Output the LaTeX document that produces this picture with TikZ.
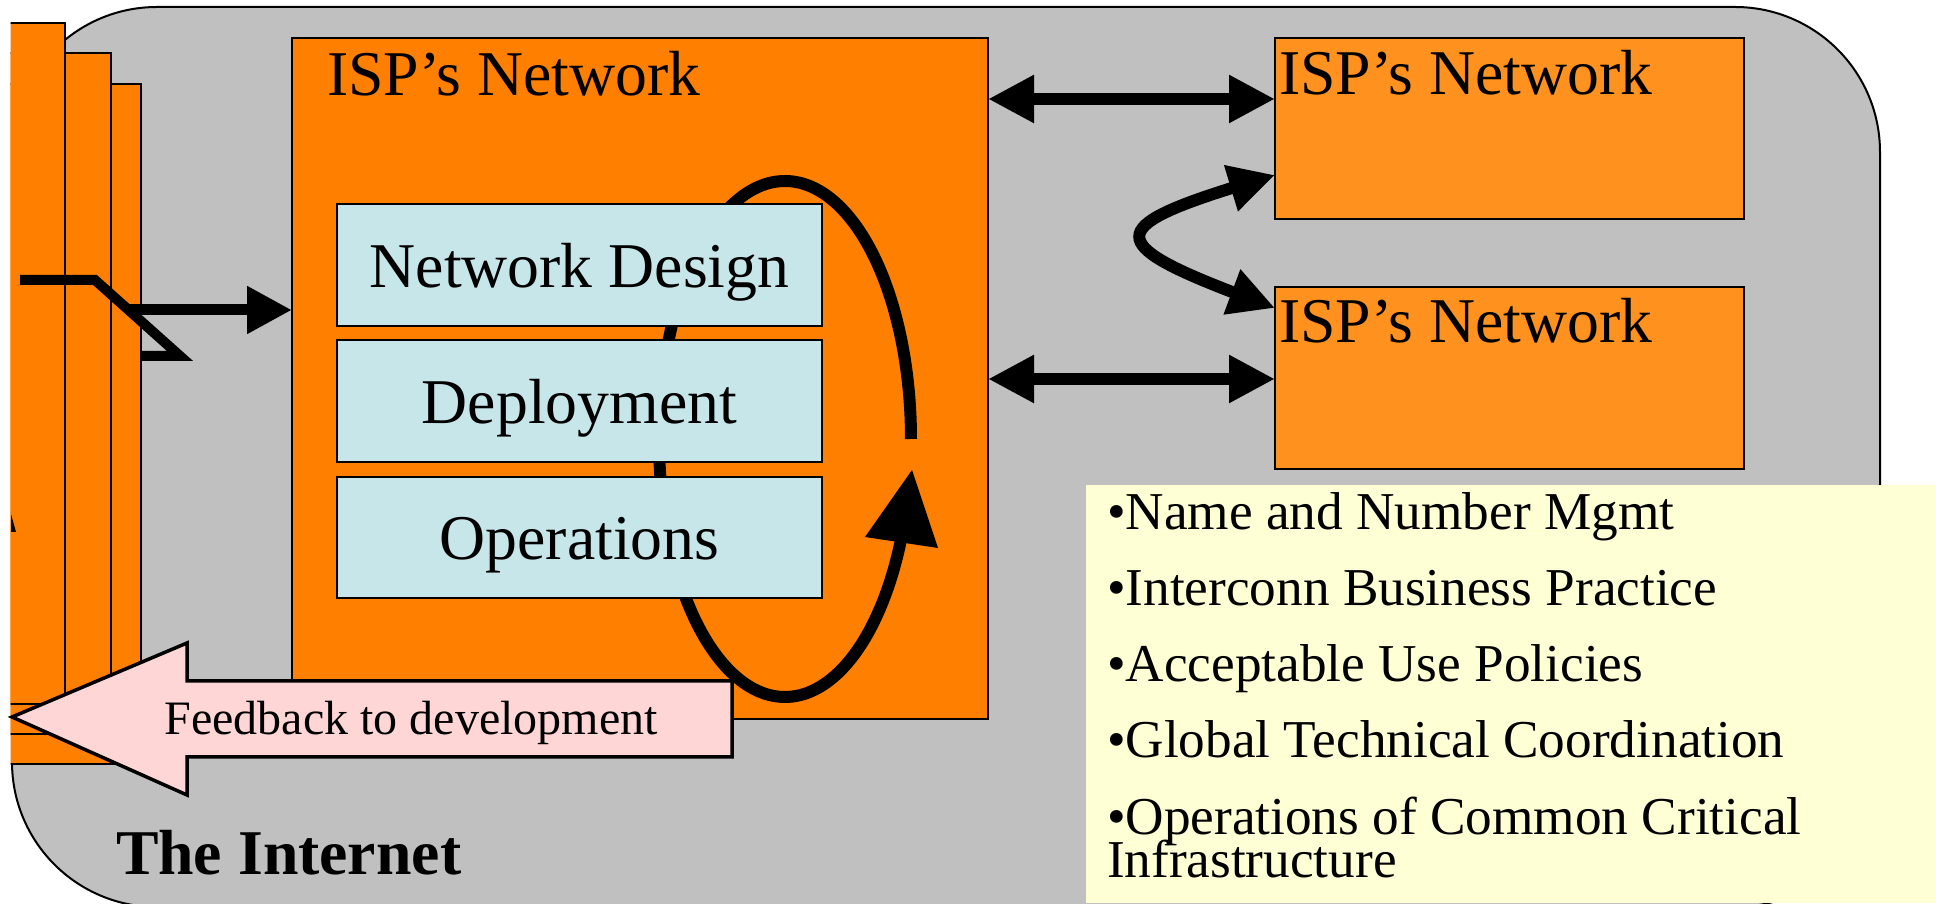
\documentclass[tikz,border=0pt]{standalone}
\usepackage{fontspec}
\setmainfont{Liberation Serif}
\usetikzlibrary{arrows.meta,bending,calc}
\definecolor{inetgray}{HTML}{C0C0C0}
\definecolor{ispmain}{HTML}{FF7F00}
\definecolor{ispother}{HTML}{FF911E}
\definecolor{stagecol}{HTML}{C6E6E9}
\definecolor{fbpink}{HTML}{FFD6D6}
\definecolor{notecol}{HTML}{FFFFD6}
\newcommand\fsBig{\fontsize{25.5pt}{30pt}\selectfont}
\newcommand\fsNote{\fontsize{21.3pt}{25pt}\selectfont}
\newcommand\fsFb{\fontsize{19.2pt}{23pt}\selectfont}
\tikzset{
  boxstyle/.style={draw=black, line width=0.8pt, inner sep=0pt, outer sep=0pt, anchor=north west},
  txt/.style={inner sep=0pt, outer sep=0pt, anchor=base west},
  arr/.style={line width=4.4pt, -{Triangle[length=18pt,width=18pt]}},
  dbl/.style={line width=4.8pt, {Triangle[length=18.4pt,width=18pt]}-{Triangle[length=18.4pt,width=18pt]}},
}
\begin{document}
\begin{tikzpicture}[x=0.4pt,y=-0.4pt]
\useasboundingbox (0,0) rectangle (1936,904);
% background "The Internet"
\begin{scope}
\clip (11,-20) rectangle (1960,930);
\draw[fill=inetgray, line width=0.8pt, rounded corners=58pt] (12,7) rectangle (1880,907);
\end{scope}
% stacked rectangles at left
\begin{scope}
\clip (10.5,0) rectangle (400,904);
\draw[fill=ispmain, line width=0.8pt] (-50,84) rectangle (141,764);
\draw[fill=ispmain, line width=0.8pt] (-50,53) rectangle (111,734);
\draw[fill=ispmain, line width=0.8pt] (-50,23) rectangle (65,704);
\fill (11,514) -- (16,532) -- (11,532) -- cycle;
\end{scope}
% main ISP network
\node[boxstyle, fill=ispmain, minimum width=278.4pt, minimum height=272.4pt] (isp) at (292,38) {};
\node[txt] (isptxt) at (327,96) {\fsBig ISP’s Network};
% cycle loop
\draw[line width=4.8pt] plot[domain=0:336.6, samples=150, smooth] ({785+126*cos(\x)},{439-258*sin(\x)});
\fill (912,470) -- (865,537) -- (938,548) -- cycle;
% stages
\node[boxstyle, fill=stagecol, minimum width=194pt, minimum height=48.8pt] (design) at (337,204) {};
\node[boxstyle, fill=stagecol, minimum width=194pt, minimum height=48.8pt] (deploy) at (337,340) {};
\node[boxstyle, fill=stagecol, minimum width=194pt, minimum height=48.4pt] (ops) at (337,477) {};
\node[inner sep=0pt, anchor=base] at (design.center |- 0,288) {\fsBig Network Design};
\node[inner sep=0pt, anchor=base] at (deploy.center |- 0,424) {\fsBig Deployment};
\node[inner sep=0pt, anchor=base] at (ops.center |- 0,560) {\fsBig Operations};
% zigzag incoming
\draw[line width=4pt, line join=miter] (20,280) -- (95,280) -- (180,356) -- (141,356);
\coordinate (zin) at (127,310);
\draw[arr] (zin) -- (isp.west |- zin);
% feedback arrow
\draw[fill=fbpink, line width=1.4pt, line join=miter] (12,717) -- (187,643) -- (187,681) -- (732,681) -- (732,757) -- (187,757) -- (187,795) -- cycle;
\node[inner sep=0pt, anchor=base] (fb) at (411,735) {\fsFb Feedback to development};
% other ISPs
\node[boxstyle, fill=ispother, minimum width=187.6pt, minimum height=72.4pt] (ispA) at (1275,38) {};
\node[boxstyle, fill=ispother, minimum width=187.6pt, minimum height=72.8pt] (ispB) at (1275,287) {};
\node[txt] at (1279,95) {\fsBig ISP’s Network};
\node[txt] at (1279,343) {\fsBig ISP’s Network};
\draw[dbl] (isp.east |- 0,99) -- (ispA.west |- 0,99);
\draw[dbl] (isp.east |- 0,379) -- (ispB.west |- 0,379);
\draw[dbl] (ispA.west |- 0,175) .. controls (1094,228) and (1094,242) .. (ispB.west |- 0,308);
% coordination note
\node[anchor=north west, fill=notecol, inner sep=0pt, minimum width=340.4pt, minimum height=166.8pt] (note) at (1085,485) {};
\node[txt] at (1107,530) {\fsNote •Name and Number Mgmt};
\node[txt] at (1107,606) {\fsNote •Interconn Business Practice};
\node[txt] at (1107,682) {\fsNote •Acceptable Use Policies};
\node[txt] at (1107,758) {\fsNote •Global Technical Coordination};
\node[txt] at (1107,835) {\fsNote •Operations of Common Critical};
\node[txt] at (1107,878) {\fsNote Infrastructure};
% label
\node[txt] (inet) at (116,875) {\fsBig\bfseries The Internet};
\end{tikzpicture}
\end{document}
